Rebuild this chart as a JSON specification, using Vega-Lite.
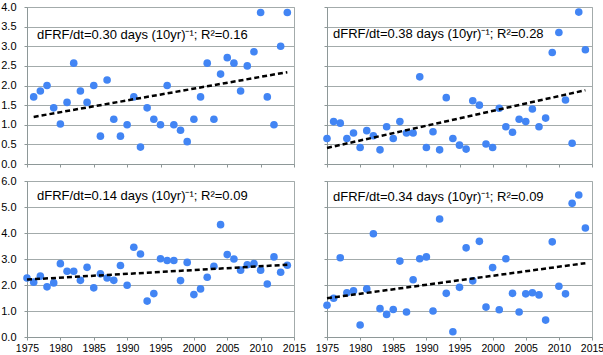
{
  "$schema": "https://vega.github.io/schema/vega-lite/v6.json",
  "padding": 0,
  "bounds": "flush",
  "spacing": {"row": 17, "column": 33},
  "columns": 2,
  "config": {
    "view": {"stroke": "#a3abab", "strokeWidth": 1},
    "font": "Liberation Sans",
    "axis": {
      "domainColor": "#8e9898",
      "tickColor": "#8e9898",
      "gridColor": "#a3abab",
      "tickSize": 3,
      "labelFontSize": 11,
      "labelColor": "#000000",
      "labelFont": "Liberation Sans",
      "labelOverlap": false,
      "title": null
    }
  },
  "datasets": {
    "pts": [
      {"p": "a", "year": 1976, "v": 1.71}, {"p": "a", "year": 1977, "v": 1.86}, {"p": "a", "year": 1978, "v": 2.0}, {"p": "a", "year": 1979, "v": 1.43}, {"p": "a", "year": 1980, "v": 1.02},
      {"p": "a", "year": 1981, "v": 1.57}, {"p": "a", "year": 1982, "v": 2.57}, {"p": "a", "year": 1983, "v": 1.86}, {"p": "a", "year": 1984, "v": 1.57}, {"p": "a", "year": 1985, "v": 2.0},
      {"p": "a", "year": 1986, "v": 0.71}, {"p": "a", "year": 1987, "v": 2.14}, {"p": "a", "year": 1988, "v": 1.14}, {"p": "a", "year": 1989, "v": 0.71}, {"p": "a", "year": 1990, "v": 1.0},
      {"p": "a", "year": 1991, "v": 1.71}, {"p": "a", "year": 1992, "v": 0.43}, {"p": "a", "year": 1993, "v": 1.43}, {"p": "a", "year": 1994, "v": 1.14}, {"p": "a", "year": 1995, "v": 1.0},
      {"p": "a", "year": 1996, "v": 2.0}, {"p": "a", "year": 1997, "v": 1.0}, {"p": "a", "year": 1998, "v": 0.86}, {"p": "a", "year": 1999, "v": 0.57}, {"p": "a", "year": 2000, "v": 1.14},
      {"p": "a", "year": 2001, "v": 1.71}, {"p": "a", "year": 2002, "v": 2.57}, {"p": "a", "year": 2003, "v": 1.14}, {"p": "a", "year": 2004, "v": 2.29}, {"p": "a", "year": 2005, "v": 2.71},
      {"p": "a", "year": 2006, "v": 2.57}, {"p": "a", "year": 2007, "v": 1.86}, {"p": "a", "year": 2008, "v": 2.5}, {"p": "a", "year": 2009, "v": 2.86}, {"p": "a", "year": 2010, "v": 3.86},
      {"p": "a", "year": 2011, "v": 1.71}, {"p": "a", "year": 2012, "v": 1.0}, {"p": "a", "year": 2013, "v": 3.0}, {"p": "a", "year": 2014, "v": 3.86},

      {"p": "b", "year": 1975, "v": 0.65}, {"p": "b", "year": 1976, "v": 1.08}, {"p": "b", "year": 1977, "v": 1.04}, {"p": "b", "year": 1978, "v": 0.65}, {"p": "b", "year": 1979, "v": 0.79},
      {"p": "b", "year": 1980, "v": 0.42}, {"p": "b", "year": 1981, "v": 0.85}, {"p": "b", "year": 1982, "v": 0.72}, {"p": "b", "year": 1983, "v": 0.36}, {"p": "b", "year": 1984, "v": 0.95},
      {"p": "b", "year": 1985, "v": 0.65}, {"p": "b", "year": 1986, "v": 1.08}, {"p": "b", "year": 1987, "v": 0.79}, {"p": "b", "year": 1988, "v": 0.79}, {"p": "b", "year": 1989, "v": 2.22},
      {"p": "b", "year": 1990, "v": 0.42}, {"p": "b", "year": 1991, "v": 0.82}, {"p": "b", "year": 1992, "v": 0.36}, {"p": "b", "year": 1993, "v": 1.69}, {"p": "b", "year": 1994, "v": 0.65},
      {"p": "b", "year": 1995, "v": 0.48}, {"p": "b", "year": 1996, "v": 0.38}, {"p": "b", "year": 1997, "v": 1.61}, {"p": "b", "year": 1998, "v": 1.5}, {"p": "b", "year": 1999, "v": 0.51},
      {"p": "b", "year": 2000, "v": 0.42}, {"p": "b", "year": 2001, "v": 1.42}, {"p": "b", "year": 2002, "v": 0.95}, {"p": "b", "year": 2003, "v": 0.81}, {"p": "b", "year": 2004, "v": 1.14},
      {"p": "b", "year": 2005, "v": 1.08}, {"p": "b", "year": 2006, "v": 1.4}, {"p": "b", "year": 2007, "v": 0.95}, {"p": "b", "year": 2008, "v": 1.17}, {"p": "b", "year": 2009, "v": 2.84},
      {"p": "b", "year": 2010, "v": 3.35}, {"p": "b", "year": 2011, "v": 1.63}, {"p": "b", "year": 2012, "v": 0.53}, {"p": "b", "year": 2013, "v": 3.87}, {"p": "b", "year": 2014, "v": 2.91},

      {"p": "c", "year": 1975, "v": 2.27}, {"p": "c", "year": 1976, "v": 2.11}, {"p": "c", "year": 1977, "v": 2.34}, {"p": "c", "year": 1978, "v": 1.93}, {"p": "c", "year": 1979, "v": 2.08},
      {"p": "c", "year": 1980, "v": 2.82}, {"p": "c", "year": 1981, "v": 2.53}, {"p": "c", "year": 1982, "v": 2.53}, {"p": "c", "year": 1983, "v": 2.18}, {"p": "c", "year": 1984, "v": 2.68},
      {"p": "c", "year": 1985, "v": 1.89}, {"p": "c", "year": 1986, "v": 2.43}, {"p": "c", "year": 1987, "v": 2.27}, {"p": "c", "year": 1988, "v": 2.18}, {"p": "c", "year": 1989, "v": 2.75},
      {"p": "c", "year": 1990, "v": 1.99}, {"p": "c", "year": 1991, "v": 3.45}, {"p": "c", "year": 1992, "v": 3.19}, {"p": "c", "year": 1993, "v": 1.38}, {"p": "c", "year": 1994, "v": 1.67},
      {"p": "c", "year": 1995, "v": 3.01}, {"p": "c", "year": 1996, "v": 2.94}, {"p": "c", "year": 1997, "v": 2.94}, {"p": "c", "year": 1998, "v": 2.17}, {"p": "c", "year": 1999, "v": 2.87},
      {"p": "c", "year": 2000, "v": 1.63}, {"p": "c", "year": 2001, "v": 1.85}, {"p": "c", "year": 2002, "v": 2.3}, {"p": "c", "year": 2003, "v": 2.72}, {"p": "c", "year": 2004, "v": 4.32},
      {"p": "c", "year": 2005, "v": 3.17}, {"p": "c", "year": 2006, "v": 3.0}, {"p": "c", "year": 2007, "v": 2.57}, {"p": "c", "year": 2008, "v": 2.78}, {"p": "c", "year": 2009, "v": 2.82},
      {"p": "c", "year": 2010, "v": 2.57}, {"p": "c", "year": 2011, "v": 2.04}, {"p": "c", "year": 2012, "v": 3.08}, {"p": "c", "year": 2013, "v": 2.49}, {"p": "c", "year": 2014, "v": 2.76},

      {"p": "d", "year": 1975, "v": 1.22}, {"p": "d", "year": 1976, "v": 1.49}, {"p": "d", "year": 1977, "v": 3.05}, {"p": "d", "year": 1978, "v": 1.7}, {"p": "d", "year": 1979, "v": 1.78},
      {"p": "d", "year": 1980, "v": 0.46}, {"p": "d", "year": 1981, "v": 1.85}, {"p": "d", "year": 1982, "v": 3.97}, {"p": "d", "year": 1983, "v": 1.09}, {"p": "d", "year": 1984, "v": 0.87},
      {"p": "d", "year": 1985, "v": 1.06}, {"p": "d", "year": 1986, "v": 2.92}, {"p": "d", "year": 1987, "v": 0.96}, {"p": "d", "year": 1988, "v": 2.2}, {"p": "d", "year": 1989, "v": 3.01},
      {"p": "d", "year": 1990, "v": 3.08}, {"p": "d", "year": 1991, "v": 1.0}, {"p": "d", "year": 1992, "v": 4.54}, {"p": "d", "year": 1993, "v": 1.68}, {"p": "d", "year": 1994, "v": 0.2},
      {"p": "d", "year": 1995, "v": 1.91}, {"p": "d", "year": 1996, "v": 3.43}, {"p": "d", "year": 1997, "v": 2.16}, {"p": "d", "year": 1998, "v": 3.68}, {"p": "d", "year": 1999, "v": 1.15},
      {"p": "d", "year": 2000, "v": 2.67}, {"p": "d", "year": 2001, "v": 1.05}, {"p": "d", "year": 2002, "v": 3.01}, {"p": "d", "year": 2003, "v": 1.68}, {"p": "d", "year": 2004, "v": 0.96},
      {"p": "d", "year": 2005, "v": 1.66}, {"p": "d", "year": 2006, "v": 1.7}, {"p": "d", "year": 2007, "v": 1.62}, {"p": "d", "year": 2008, "v": 0.65}, {"p": "d", "year": 2009, "v": 3.66},
      {"p": "d", "year": 2010, "v": 1.95}, {"p": "d", "year": 2011, "v": 1.66}, {"p": "d", "year": 2012, "v": 5.14}, {"p": "d", "year": 2013, "v": 5.46}, {"p": "d", "year": 2014, "v": 4.19}
    ],
    "trend": [
      {"p": "a", "year": 1976, "v": 1.2}, {"p": "a", "year": 2014, "v": 2.34},
      {"p": "b", "year": 1975, "v": 0.41}, {"p": "b", "year": 2014, "v": 1.88},
      {"p": "c", "year": 1975, "v": 2.21}, {"p": "c", "year": 2014, "v": 2.78},
      {"p": "d", "year": 1975, "v": 1.49}, {"p": "d", "year": 2014, "v": 2.84}
    ],
    "notes": [
      {"p": "a", "year": 1976.5, "v": 3.29, "text": "dFRF/dt=0.30 days (10yr)⁻¹; R²=0.16"},
      {"p": "b", "year": 1975.9, "v": 3.31, "text": "dFRF/dt=0.38 days (10yr)⁻¹; R²=0.28"},
      {"p": "c", "year": 1976.5, "v": 5.42, "text": "dFRF/dt=0.14 days (10yr)⁻¹; R²=0.09"},
      {"p": "d", "year": 1975.9, "v": 5.38, "text": "dFRF/dt=0.34 days (10yr)⁻¹; R²=0.09"}
    ]
  },
  "concat": [
    {
      "width": 267, "height": 157,
      "layer": [
        {"data": {"name": "pts"}, "transform": [{"filter": "datum.p === 'a'"}],
         "mark": {"type": "point", "filled": true, "size": 58, "opacity": 1, "color": "#4285f4"},
         "encoding": {
           "x": {"field": "year", "type": "quantitative", "scale": {"domain": [1975, 2015], "nice": false, "zero": false},
                 "axis": {"values": [1975,1980,1985,1990,1995,2000,2005,2010,2015], "tickCount": 9, "labels": false, "grid": false}},
           "y": {"field": "v", "type": "quantitative", "scale": {"domain": [0, 4], "nice": false},
                 "axis": {"values": [0,0.5,1,1.5,2,2.5,3,3.5,4], "tickCount": 9, "format": ".1f", "labelPadding": 8, "grid": true}}
         }},
        {"data": {"name": "trend"}, "transform": [{"filter": "datum.p === 'a'"}],
         "mark": {"type": "line", "color": "#000000", "strokeWidth": 2.5, "strokeDash": [5, 3]},
         "encoding": {"x": {"field": "year", "type": "quantitative"}, "y": {"field": "v", "type": "quantitative"}}},
        {"data": {"name": "notes"}, "transform": [{"filter": "datum.p === 'a'"}],
         "mark": {"type": "text", "align": "left", "baseline": "middle", "fontSize": 13, "font": "Liberation Sans", "color": "#000000"},
         "encoding": {"x": {"field": "year", "type": "quantitative"}, "y": {"field": "v", "type": "quantitative"}, "text": {"field": "text"}}}
      ]
    },
    {
      "width": 265, "height": 157,
      "layer": [
        {"data": {"name": "pts"}, "transform": [{"filter": "datum.p === 'b'"}],
         "mark": {"type": "point", "filled": true, "size": 58, "opacity": 1, "color": "#4285f4"},
         "encoding": {
           "x": {"field": "year", "type": "quantitative", "scale": {"domain": [1975, 2015], "nice": false, "zero": false},
                 "axis": {"values": [1975,1980,1985,1990,1995,2000,2005,2010,2015], "tickCount": 9, "labels": false, "grid": false}},
           "y": {"field": "v", "type": "quantitative", "scale": {"domain": [0, 4], "nice": false},
                 "axis": {"values": [0,0.5,1,1.5,2,2.5,3,3.5,4], "tickCount": 9, "labels": false, "grid": true}}
         }},
        {"data": {"name": "trend"}, "transform": [{"filter": "datum.p === 'b'"}],
         "mark": {"type": "line", "color": "#000000", "strokeWidth": 2.5, "strokeDash": [5, 3]},
         "encoding": {"x": {"field": "year", "type": "quantitative"}, "y": {"field": "v", "type": "quantitative"}}},
        {"data": {"name": "notes"}, "transform": [{"filter": "datum.p === 'b'"}],
         "mark": {"type": "text", "align": "left", "baseline": "middle", "fontSize": 13, "font": "Liberation Sans", "color": "#000000"},
         "encoding": {"x": {"field": "year", "type": "quantitative"}, "y": {"field": "v", "type": "quantitative"}, "text": {"field": "text"}}}
      ]
    },
    {
      "width": 267, "height": 156,
      "layer": [
        {"data": {"name": "pts"}, "transform": [{"filter": "datum.p === 'c'"}],
         "mark": {"type": "point", "filled": true, "size": 58, "opacity": 1, "color": "#4285f4"},
         "encoding": {
           "x": {"field": "year", "type": "quantitative", "scale": {"domain": [1975, 2015], "nice": false, "zero": false},
                 "axis": {"values": [1975,1980,1985,1990,1995,2000,2005,2010,2015], "tickCount": 9, "format": "d", "labelPadding": 3, "labelFlush": false, "labelFontSize": 10.5, "grid": false}},
           "y": {"field": "v", "type": "quantitative", "scale": {"domain": [0, 6], "nice": false},
                 "axis": {"values": [0,1,2,3,4,5,6], "tickCount": 7, "format": ".1f", "labelPadding": 8, "grid": true}}
         }},
        {"data": {"name": "trend"}, "transform": [{"filter": "datum.p === 'c'"}],
         "mark": {"type": "line", "color": "#000000", "strokeWidth": 2.5, "strokeDash": [5, 3]},
         "encoding": {"x": {"field": "year", "type": "quantitative"}, "y": {"field": "v", "type": "quantitative"}}},
        {"data": {"name": "notes"}, "transform": [{"filter": "datum.p === 'c'"}],
         "mark": {"type": "text", "align": "left", "baseline": "middle", "fontSize": 13, "font": "Liberation Sans", "color": "#000000"},
         "encoding": {"x": {"field": "year", "type": "quantitative"}, "y": {"field": "v", "type": "quantitative"}, "text": {"field": "text"}}}
      ]
    },
    {
      "width": 265, "height": 156,
      "layer": [
        {"data": {"name": "pts"}, "transform": [{"filter": "datum.p === 'd'"}],
         "mark": {"type": "point", "filled": true, "size": 58, "opacity": 1, "color": "#4285f4"},
         "encoding": {
           "x": {"field": "year", "type": "quantitative", "scale": {"domain": [1975, 2015], "nice": false, "zero": false},
                 "axis": {"values": [1975,1980,1985,1990,1995,2000,2005,2010,2015], "tickCount": 9, "format": "d", "labelPadding": 3, "labelFlush": false, "labelFontSize": 10.5, "grid": false}},
           "y": {"field": "v", "type": "quantitative", "scale": {"domain": [0, 6], "nice": false},
                 "axis": {"values": [0,1,2,3,4,5,6], "tickCount": 7, "labels": false, "grid": true}}
         }},
        {"data": {"name": "trend"}, "transform": [{"filter": "datum.p === 'd'"}],
         "mark": {"type": "line", "color": "#000000", "strokeWidth": 2.5, "strokeDash": [5, 3]},
         "encoding": {"x": {"field": "year", "type": "quantitative"}, "y": {"field": "v", "type": "quantitative"}}},
        {"data": {"name": "notes"}, "transform": [{"filter": "datum.p === 'd'"}],
         "mark": {"type": "text", "align": "left", "baseline": "middle", "fontSize": 13, "font": "Liberation Sans", "color": "#000000"},
         "encoding": {"x": {"field": "year", "type": "quantitative"}, "y": {"field": "v", "type": "quantitative"}, "text": {"field": "text"}}}
      ]
    }
  ]
}
